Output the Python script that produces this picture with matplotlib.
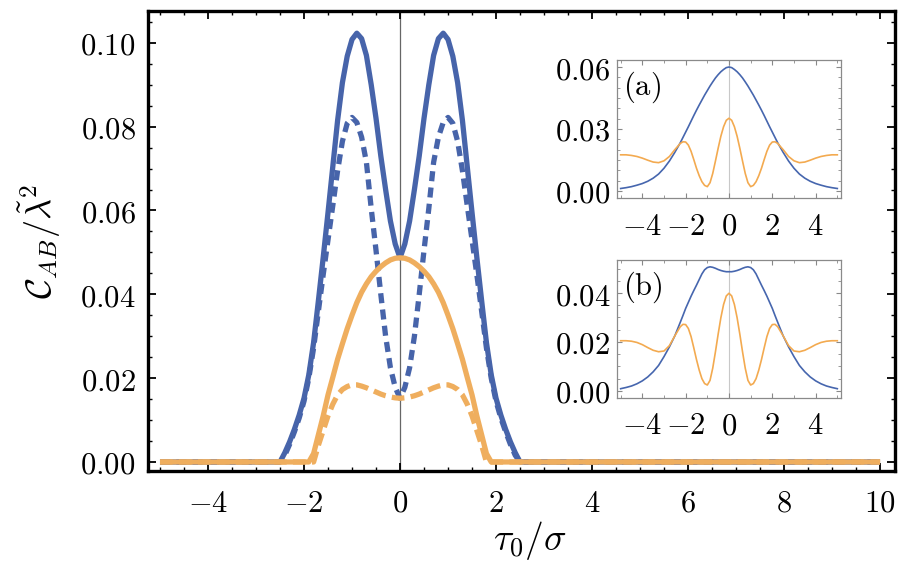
import matplotlib
matplotlib.use("Agg")
import matplotlib.pyplot as plt
from matplotlib.ticker import MultipleLocator, FuncFormatter

plt.rcParams['mathtext.fontset'] = 'cm'
plt.rcParams['font.family'] = ['DejaVu Serif']

# ---------------- main panel data ----------------
x_main = [-5.0, -2.5, -2.4, -2.3, -2.2, -2.1, -2.0, -1.9, -1.8, -1.7, -1.6,
          -1.5, -1.4, -1.3, -1.2, -1.1, -1.0, -0.9, -0.8, -0.7, -0.6,
          -0.5, -0.4, -0.3, -0.2, -0.1, 0.0, 0.1, 0.2, 0.3, 0.4,
          0.5, 0.6, 0.7, 0.8, 0.9, 1.0, 1.1, 1.2, 1.3, 1.4,
          1.5, 1.6, 1.7, 1.8, 1.9, 2.0, 2.1, 2.2, 2.3, 2.4, 2.5, 10.0]

blue_solid = [0.0, 0.0, 0.0022, 0.0048, 0.0078, 0.0112, 0.0152, 0.0208, 0.0285, 0.0385, 0.0488,
              0.0595, 0.0705, 0.0815, 0.0905, 0.0968, 0.1008, 0.1023, 0.1010, 0.0970, 0.0900,
              0.0820, 0.0730, 0.0650, 0.0575, 0.0520, 0.0487, 0.0520, 0.0575, 0.0650, 0.0730,
              0.0820, 0.0900, 0.0970, 0.1010, 0.1023, 0.1008, 0.0968, 0.0905, 0.0815, 0.0705,
              0.0595, 0.0488, 0.0385, 0.0285, 0.0208, 0.0152, 0.0112, 0.0078, 0.0048, 0.0022, 0.0, 0.0]

blue_dashed = [0.0, 0.0, 0.0016, 0.0042, 0.0072, 0.0105, 0.0145, 0.0200, 0.0272, 0.0360, 0.0447,
               0.0530, 0.0612, 0.0695, 0.0765, 0.0808, 0.0822, 0.0810, 0.0775, 0.0715, 0.0605,
               0.0505, 0.0400, 0.0300, 0.0225, 0.0178, 0.0152, 0.0178, 0.0225, 0.0300, 0.0400,
               0.0505, 0.0605, 0.0715, 0.0775, 0.0810, 0.0822, 0.0808, 0.0765, 0.0695, 0.0612,
               0.0530, 0.0447, 0.0360, 0.0272, 0.0200, 0.0145, 0.0105, 0.0072, 0.0042, 0.0016, 0.0, 0.0]

orange_solid = [0.0, 0.0, 0.0, 0.0, 0.0, 0.0, 0.0, 0.0, 0.0020, 0.0065, 0.0110,
                0.0160, 0.0202, 0.0245, 0.0282, 0.0318, 0.0350, 0.0380, 0.0405, 0.0425, 0.0442,
                0.0455, 0.0466, 0.0475, 0.0482, 0.0486, 0.0487, 0.0486, 0.0482, 0.0475, 0.0466,
                0.0455, 0.0442, 0.0425, 0.0405, 0.0380, 0.0350, 0.0318, 0.0282, 0.0245, 0.0202,
                0.0160, 0.0110, 0.0065, 0.0020, 0.0, 0.0, 0.0, 0.0, 0.0, 0.0, 0.0, 0.0]

orange_dashed = [0.0, 0.0, 0.0, 0.0, 0.0, 0.0, 0.0, 0.0, 0.0, 0.0040, 0.0075,
                 0.0110, 0.0138, 0.0160, 0.0173, 0.0180, 0.0184, 0.0184, 0.0181, 0.0177, 0.0172,
                 0.0167, 0.0162, 0.0158, 0.0155, 0.0153, 0.0152, 0.0153, 0.0155, 0.0158, 0.0162,
                 0.0167, 0.0172, 0.0177, 0.0181, 0.0184, 0.0184, 0.0180, 0.0173, 0.0160, 0.0138,
                 0.0110, 0.0075, 0.0040, 0.0, 0.0, 0.0, 0.0, 0.0, 0.0, 0.0, 0.0, 0.0]

# ---------------- inset data ----------------
x_inset = [-5.0, -4.75, -4.5, -4.25, -4.0, -3.75, -3.5, -3.25, -3.0, -2.75, -2.5, -2.25,
           -2.125, -2.0, -1.875, -1.75, -1.625, -1.5, -1.375, -1.25, -1.125, -1.0,
           -0.875, -0.75, -0.625, -0.5, -0.375, -0.25, -0.125, 0.0,
           0.125, 0.25, 0.375, 0.5, 0.625, 0.75, 0.875,
           1.0, 1.125, 1.25, 1.375, 1.5, 1.625, 1.75, 1.875, 2.0, 2.125,
           2.25, 2.5, 2.75, 3.0, 3.25, 3.5, 3.75, 4.0, 4.25, 4.5, 4.75, 5.0]

blue_a = [0.0012, 0.0016, 0.0021, 0.0028, 0.0036, 0.0047, 0.0062, 0.0082, 0.0110, 0.0145, 0.0187, 0.0233,
          0.0259, 0.0285, 0.0311, 0.0338, 0.0365, 0.0391, 0.0416, 0.0440, 0.0464, 0.0486,
          0.0508, 0.0528, 0.0547, 0.0563, 0.0577, 0.0588, 0.0597, 0.0600,
          0.0597, 0.0588, 0.0577, 0.0563, 0.0547, 0.0528, 0.0508,
          0.0486, 0.0464, 0.0440, 0.0416, 0.0391, 0.0365, 0.0338, 0.0311, 0.0285, 0.0259,
          0.0233, 0.0187, 0.0145, 0.0110, 0.0082, 0.0062, 0.0047, 0.0036, 0.0028, 0.0021, 0.0016, 0.0012]

orange_a = [0.0175, 0.0175, 0.0172, 0.0167, 0.0159, 0.0149, 0.0140, 0.0137, 0.0146, 0.0167, 0.0200, 0.0230,
            0.0238, 0.0237, 0.0222, 0.0192, 0.0152, 0.0110, 0.0074, 0.0045, 0.0027, 0.0021,
            0.0040, 0.0085, 0.0145, 0.0207, 0.0265, 0.0311, 0.0342, 0.0352,
            0.0342, 0.0311, 0.0265, 0.0207, 0.0145, 0.0085, 0.0040,
            0.0021, 0.0027, 0.0045, 0.0074, 0.0110, 0.0152, 0.0192, 0.0222, 0.0237, 0.0238,
            0.0230, 0.0200, 0.0167, 0.0146, 0.0137, 0.0140, 0.0149, 0.0159, 0.0167, 0.0172, 0.0175, 0.0175]

blue_b = [0.0009, 0.0014, 0.0020, 0.0029, 0.0041, 0.0057, 0.0078, 0.0104, 0.0140, 0.0180, 0.0225, 0.0280,
          0.0308, 0.0337, 0.0362, 0.0387, 0.0410, 0.0432, 0.0455, 0.0478, 0.0495, 0.0504,
          0.0507, 0.0505, 0.0501, 0.0496, 0.0492, 0.0489, 0.0487, 0.0487,
          0.0487, 0.0489, 0.0492, 0.0496, 0.0501, 0.0505, 0.0507,
          0.0504, 0.0495, 0.0478, 0.0455, 0.0432, 0.0410, 0.0387, 0.0362, 0.0337, 0.0308,
          0.0280, 0.0225, 0.0180, 0.0140, 0.0104, 0.0078, 0.0057, 0.0041, 0.0029, 0.0020, 0.0014, 0.0009]

orange_b = [0.0205, 0.0205, 0.0203, 0.0198, 0.0189, 0.0177, 0.0166, 0.0160, 0.0163, 0.0185, 0.0225, 0.0262,
            0.0272, 0.0271, 0.0255, 0.0222, 0.0176, 0.0128, 0.0085, 0.0050, 0.0030, 0.0024,
            0.0043, 0.0093, 0.0160, 0.0232, 0.0299, 0.0353, 0.0388, 0.0399,
            0.0388, 0.0353, 0.0299, 0.0232, 0.0160, 0.0093, 0.0043,
            0.0024, 0.0030, 0.0050, 0.0085, 0.0128, 0.0176, 0.0222, 0.0255, 0.0271, 0.0272,
            0.0262, 0.0225, 0.0185, 0.0163, 0.0160, 0.0166, 0.0177, 0.0189, 0.0198, 0.0203, 0.0205, 0.0205]

main_xticks = [-4, -2, 0, 2, 4, 6, 8, 10]
main_yticks = [0.00, 0.02, 0.04, 0.06, 0.08, 0.10]
inset_xticks = [-4, -2, 0, 2, 4]
inset_a_yticks = [0.00, 0.03, 0.06]
inset_b_yticks = [0.00, 0.02, 0.04]

BLUE = '#4764AA'
ORANGE = '#EFAE5E'
BLUE_T = '#4666AE'
ORANGE_T = '#F3AA50'

fig = plt.figure(figsize=(9.04, 5.68), dpi=100)
ax = fig.add_axes([0.1637, 0.1708, 0.8263, 0.8099])

ax.axvline(0, color='#666666', lw=0.9, zorder=1)
ax.plot(x_main, blue_solid, color=BLUE, lw=3.8, zorder=3, solid_capstyle='butt')
ax.plot(x_main, blue_dashed, color=BLUE, lw=3.8, zorder=3, dashes=(1.9, 1.2))
ax.plot(x_main, orange_solid, color=ORANGE, lw=3.8, zorder=4, solid_capstyle='butt')
ax.plot(x_main, orange_dashed, color=ORANGE, lw=3.8, zorder=4, dashes=(2.4, 1.2))

ax.set_xlim(-5.25, 10.31)
ax.set_ylim(-0.00215, 0.1076)
ax.set_xticks(main_xticks)
ax.set_yticks(main_yticks)
ax.xaxis.set_minor_locator(MultipleLocator(0.5))
ax.yaxis.set_minor_locator(MultipleLocator(0.005))
ax.xaxis.set_major_formatter(FuncFormatter(lambda v, p: r'$%d$' % round(v)))
ax.yaxis.set_major_formatter(FuncFormatter(lambda v, p: r'$%.2f$' % v))
ax.tick_params(which='major', direction='in', length=6, width=1.3, top=True, right=True,
               labelsize=22)
ax.tick_params(which='minor', direction='in', length=3, width=1.0, top=True, right=True)
ax.tick_params(axis='y', which='major', pad=9)
ax.tick_params(axis='x', which='major', pad=12)
for s in ax.spines.values():
    s.set_linewidth(2.4)
ax.set_xlabel(r'$\tau_0/\sigma$', fontsize=27)
ax.xaxis.set_label_coords(0.512, -0.105)
ax.set_ylabel(r'$\mathcal{C}_{AB}/\tilde{\lambda}^2$', fontsize=26, labelpad=12)


def make_inset(rect, xs, yb, yo, yticks, ylim, label):
    ia = fig.add_axes(rect)
    ia.axvline(0, color='#c8c8c8', lw=0.8, zorder=1)
    ia.plot(xs, yb, color=BLUE_T, lw=1.2, zorder=3)
    ia.plot(xs, yo, color=ORANGE_T, lw=1.2, zorder=3)
    ia.set_xlim(-5.17, 5.17)
    ia.set_ylim(*ylim)
    ia.set_xticks(inset_xticks)
    ia.set_yticks(yticks)
    ia.xaxis.set_minor_locator(MultipleLocator(1))
    ia.yaxis.set_minor_locator(MultipleLocator(0.005))
    ia.xaxis.set_major_formatter(FuncFormatter(lambda v, p: r'$%d$' % round(v)))
    ia.yaxis.set_major_formatter(FuncFormatter(lambda v, p: r'$%.2f$' % v))
    ia.tick_params(which='major', direction='in', length=3.5, width=0.8, color='#888888',
                   top=True, right=True, labelsize=22, pad=5)
    ia.tick_params(which='minor', direction='in', length=2, width=0.6, color='#888888',
                   top=True, right=True)
    ia.tick_params(axis='x', which='major', pad=9)
    for s in ia.spines.values():
        s.set_linewidth(0.9)
        s.set_color('#8a8a8a')
    ia.text(0.025, 0.93, label, transform=ia.transAxes, ha='left', va='top', fontsize=22)
    return ia


make_inset([0.6825, 0.6514, 0.2478, 0.2430], x_inset, blue_a, orange_a,
           inset_a_yticks, (-0.0034, 0.0634), r'$\mathrm{(a)}$')
make_inset([0.6825, 0.2993, 0.2478, 0.2430], x_inset, blue_b, orange_b,
           inset_b_yticks, (-0.0029, 0.0535), r'$\mathrm{(b)}$')

fig.savefig('out.png', dpi=100)
